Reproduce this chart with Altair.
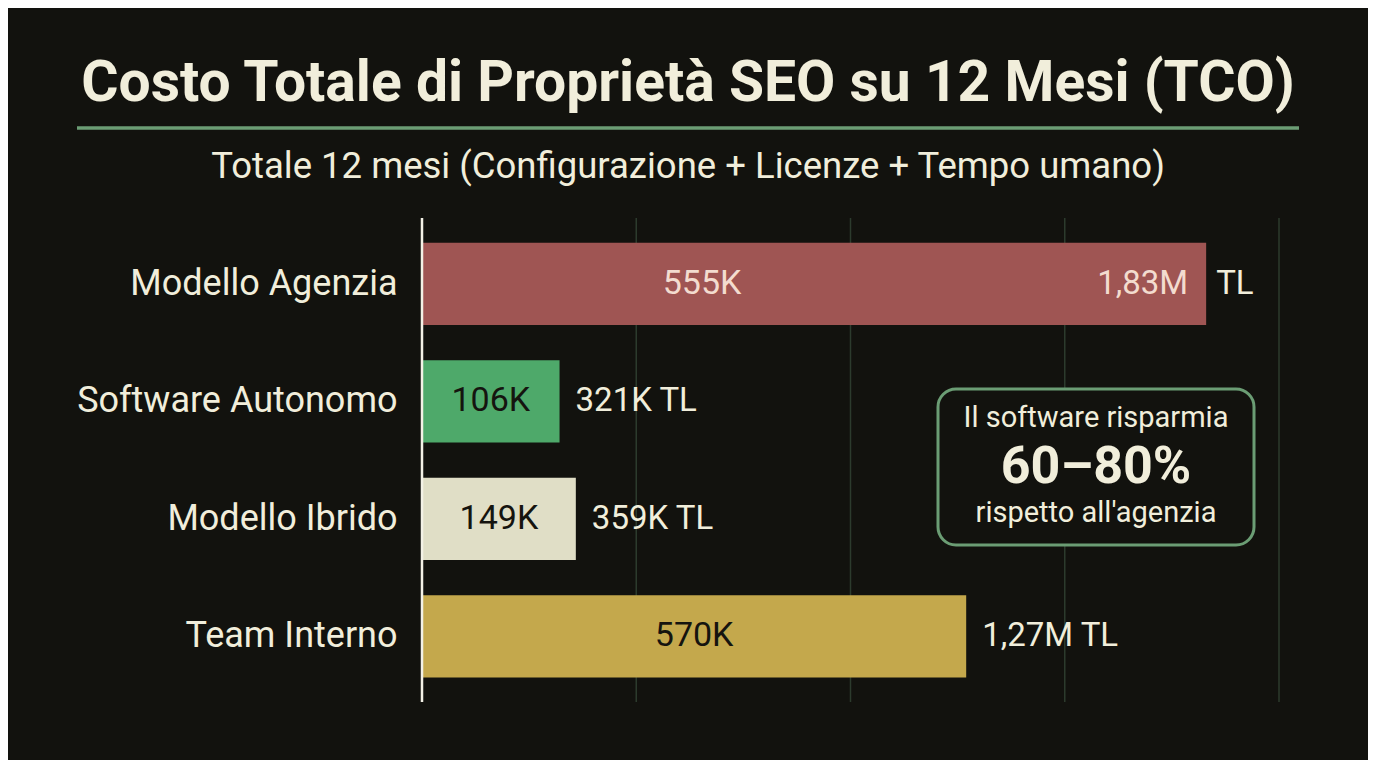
import altair as alt
import pandas as pd

# ---- data ----
categories = ["Modello Agenzia", "Software Autonomo", "Modello Ibrido", "Team Interno"]
totals = [1830000, 321000, 359000, 1270000]
inner_labels = ["555K", "106K", "149K", "570K"]
total_texts = ["1,83M", "321K", "359K", "1,27M"]
unit = "TL"
bar_colors = ["#9f5553", "#4ea96a", "#e0dec6", "#c4a84c"]
grid_values = [500000, 1000000, 1500000, 2000000]

title_text = "Costo Totale di Proprietà SEO su 12 Mesi (TCO)"
subtitle_text = "Totale 12 mesi (Configurazione + Licenze + Tempo umano)"
box_lines = ["Il software risparmia", "60–80%", "rispetto all'agenzia"]

BG = "#12120e"
CREAM = "#f1eedb"
GREEN = "#6b9d74"
FONT = "Roboto"

df = pd.DataFrame({
    "cat": categories,
    "total": totals,
    "inner": inner_labels,
    "ttext": total_texts,
})
df["half"] = df["total"] / 2
df["outer"] = df["ttext"] + " " + unit

W, H = 857, 470

xs = alt.Scale(domain=[0, 2000000], nice=False, zero=True)
ysort = categories
yscale = alt.Scale(paddingInner=0.3, paddingOuter=0.15)

base = alt.Chart(df)

grid = alt.Chart(pd.DataFrame({"g": grid_values})).mark_rule(
    color="#2c3b2d", strokeWidth=1.5
).encode(x=alt.X("g:Q", scale=xs, axis=None), y=alt.value(-7), y2=alt.value(477))

bars = base.mark_bar().encode(
    x=alt.X("total:Q", scale=xs, axis=None),
    y=alt.Y("cat:N", sort=ysort, scale=yscale,
            axis=alt.Axis(title=None, labelFontSize=36, labelColor=CREAM, labelFont=FONT,
                          labelPadding=25, ticks=False, domain=False, labelLimit=400)),
    color=alt.Color("cat:N", scale=alt.Scale(domain=categories, range=bar_colors), legend=None),
)

axis_line = alt.Chart(pd.DataFrame({"z": [0]})).mark_rule(color="#f3f1e6", strokeWidth=2.5).encode(
    x=alt.X("z:Q", scale=xs, axis=None), y=alt.value(-7), y2=alt.value(477)
)

inner_first = base.transform_filter(alt.datum.cat == categories[0]).mark_text(
    font=FONT, fontSize=34, color="#f3dccf", dx=-112, baseline="middle"
).encode(x=alt.X("half:Q", scale=xs), y=alt.Y("cat:N", sort=ysort, scale=yscale), text="inner:N")

inner_rest = base.transform_filter(alt.datum.cat != categories[0]).mark_text(
    font=FONT, fontSize=34, color="#15140f", baseline="middle"
).encode(x=alt.X("half:Q", scale=xs), y=alt.Y("cat:N", sort=ysort, scale=yscale), text="inner:N")

total_first_in = base.transform_filter(alt.datum.cat == categories[0]).mark_text(
    font=FONT, fontSize=33, color="#f3dccf", align="right", dx=-18, baseline="middle"
).encode(x=alt.X("total:Q", scale=xs), y=alt.Y("cat:N", sort=ysort, scale=yscale), text="ttext:N")

total_first_unit = base.transform_filter(alt.datum.cat == categories[0]).transform_calculate(
    u="'" + unit + "'"
).mark_text(
    font=FONT, fontSize=33, color=CREAM, align="left", dx=10, baseline="middle"
).encode(x=alt.X("total:Q", scale=xs), y=alt.Y("cat:N", sort=ysort, scale=yscale), text="u:N")

total_rest = base.transform_filter(alt.datum.cat != categories[0]).mark_text(
    font=FONT, fontSize=33, color=CREAM, align="left", dx=16, baseline="middle"
).encode(x=alt.X("total:Q", scale=xs), y=alt.Y("cat:N", sort=ysort, scale=yscale), text="outer:N")

# title, underline, subtitle
title = alt.Chart(pd.DataFrame({"t": [title_text]})).mark_text(
    font=FONT, fontSize=57, fontWeight="bold", color=CREAM, align="center", baseline="alphabetic"
).encode(text="t:N", x=alt.value(266), y=alt.value(-124))

underline = alt.Chart(pd.DataFrame({"z": [0]})).mark_rule(color=GREEN, strokeWidth=3.5).encode(
    x=alt.value(-345), x2=alt.value(877), y=alt.value(-97)
)

subtitle = alt.Chart(pd.DataFrame({"t": [subtitle_text]})).mark_text(
    font=FONT, fontSize=36.5, color=CREAM, align="center", baseline="alphabetic"
).encode(text="t:N", x=alt.value(266), y=alt.value(-47))

# annotation box
box = alt.Chart(pd.DataFrame({"z": [0]})).mark_rect(
    fill=BG, stroke=GREEN, strokeWidth=3, cornerRadius=18
).encode(x=alt.value(516), x2=alt.value(832), y=alt.value(164), y2=alt.value(320))

box_df = pd.DataFrame({"t": box_lines, "i": [0, 1, 2]})
box_l1 = alt.Chart(box_df).transform_filter(alt.datum.i == 0).mark_text(
    font=FONT, fontSize=29, color=CREAM, align="center", baseline="alphabetic"
).encode(text="t:N", x=alt.value(674), y=alt.value(202))
box_l2 = alt.Chart(box_df).transform_filter(alt.datum.i == 1).mark_text(
    font=FONT, fontSize=52, fontWeight="bold", color=CREAM, align="center", baseline="alphabetic"
).encode(text="t:N", x=alt.value(674), y=alt.value(258))
box_l3 = alt.Chart(box_df).transform_filter(alt.datum.i == 2).mark_text(
    font=FONT, fontSize=29, color=CREAM, align="center", baseline="alphabetic"
).encode(text="t:N", x=alt.value(674), y=alt.value(297))

chart = alt.layer(
    grid, bars, axis_line, inner_first, inner_rest, total_first_in, total_first_unit, total_rest,
    title, underline, subtitle, box, box_l1, box_l2, box_l3
).properties(
    width=W, height=H,
    background=BG,
    padding={"left": 414, "top": 217, "right": 89, "bottom": 65},
    autosize=alt.AutoSizeParams(type="none"),
).configure_view(stroke=None)

chart.save("out.html", embed_options={"renderer": "svg", "actions": False})
